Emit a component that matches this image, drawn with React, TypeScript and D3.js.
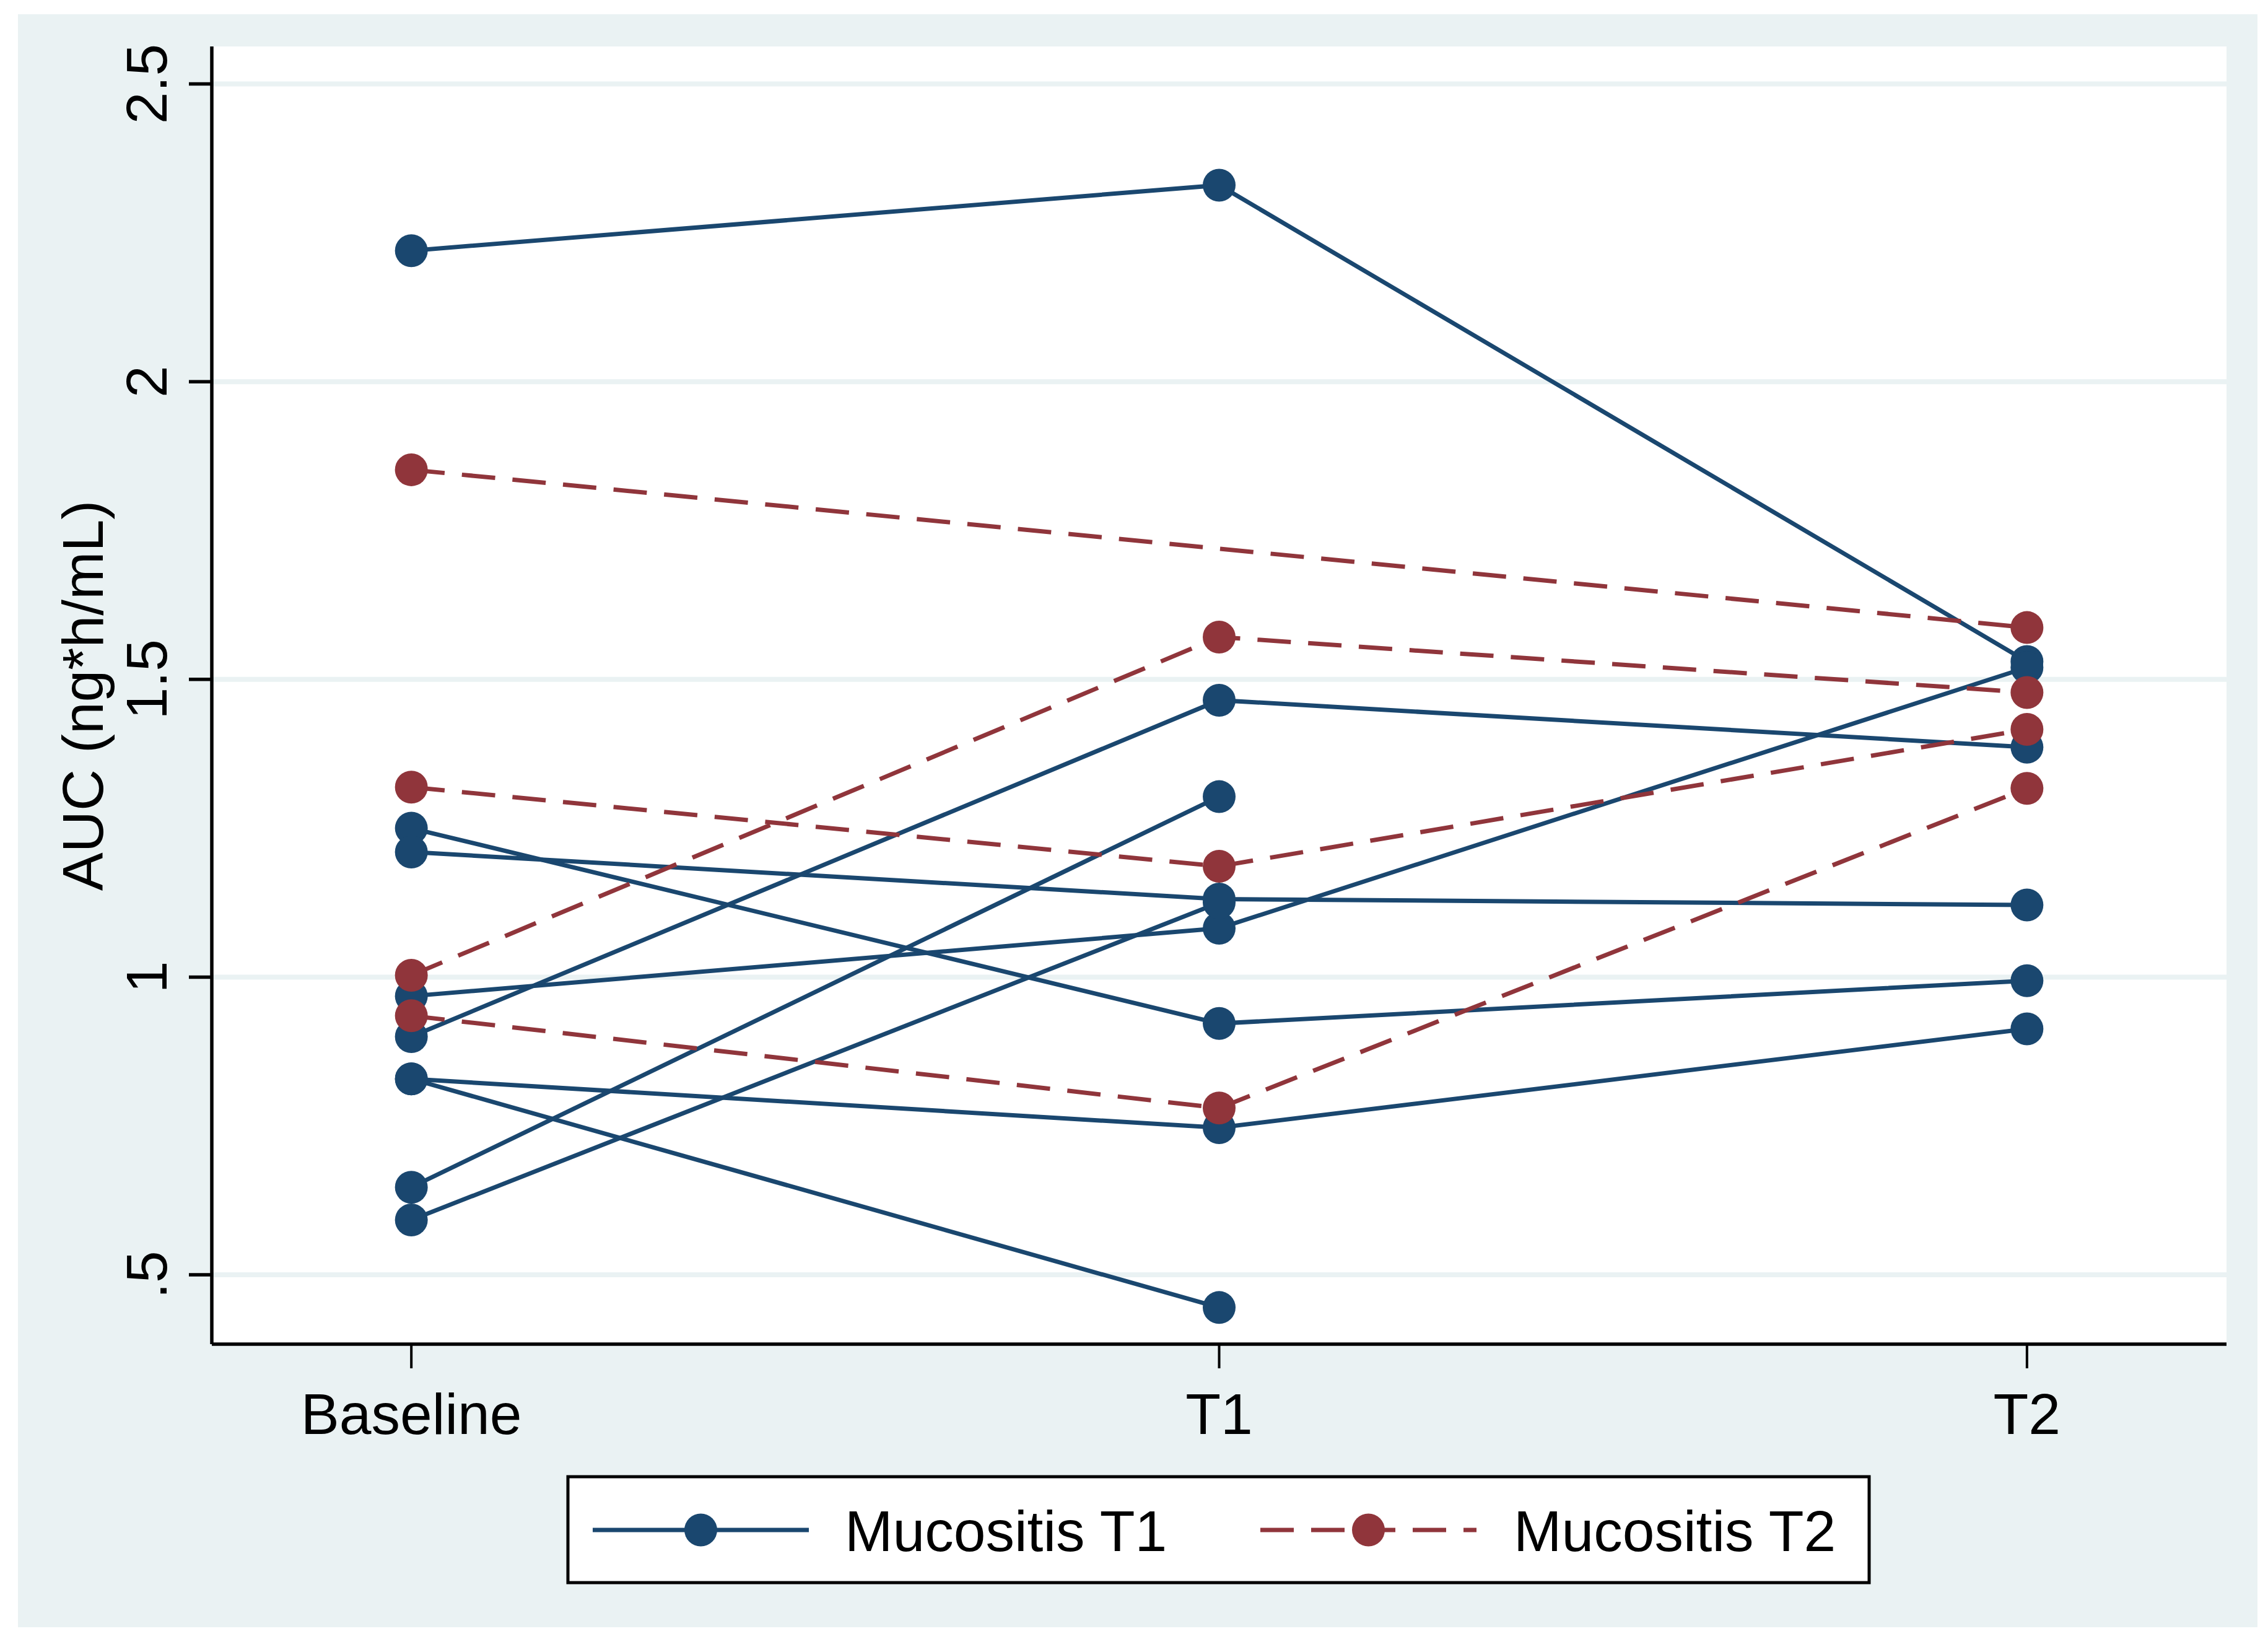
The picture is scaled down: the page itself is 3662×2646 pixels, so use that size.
import * as d3 from "d3";

const timepoints = ["Baseline", "T1", "T2"];

// AUC per patient at Baseline, T1, T2 (null = missing)
const mucositisT1: (number | null)[][] = [
  [2.22, 2.33, 1.53],
  [1.25, 0.922, 0.994],
  [1.21, 1.131, 1.121],
  [0.968, 1.082, 1.52],
  [0.9, 1.465, 1.386],
  [0.829, 0.747, 0.913],
  [0.829, 0.445, null],
  [0.647, 1.303, null],
  [0.592, 1.125, null],
];

const mucositisT2: (number | null)[][] = [
  [1.852, null, 1.587],
  [1.319, 1.186, 1.416],
  [1.003, 1.571, 1.478],
  [0.935, 0.78, 1.317],
];

const yTicks = [0.5, 1, 1.5, 2, 2.5];
const yTickLabels = [".5", "1", "1.5", "2", "2.5"];
const legendLabels = ["Mucositis T1", "Mucositis T2"];

const W = 3662;
const H = 2646;
const plot = { left: 342, top: 75, right: 3595, bottom: 2170 };
const BLUE = "#1a476f";
const RED = "#90353b";
const BG = "#eaf2f3";
const FONT = "'Liberation Sans', Arial, sans-serif";
const FS = 93;
const DASH = "54,28";

const x = d3.scalePoint<string>().domain(timepoints).range([plot.left, plot.right]).padding(0.247);
const y = d3.scaleLinear().domain([0.5, 2.5]).range([2058, 135.5]);

type Pt = { t: string; v: number };

function toPoints(row: (number | null)[]): Pt[] {
  return row
    .map((v, i) => ({ t: timepoints[i], v }))
    .filter((d): d is Pt => d.v !== null);
}

const line = d3
  .line<Pt>()
  .x((d) => x(d.t)!)
  .y((d) => y(d.v));

function Series({ rows, color, dash }: { rows: (number | null)[][]; color: string; dash?: string }) {
  const pts = rows.map(toPoints);
  return (
    <g>
      {pts.map((p, i) => (
        <path key={"l" + i} d={line(p)!} fill="none" stroke={color} strokeWidth={7} strokeDasharray={dash} />
      ))}
      {pts.flat().map((d, i) => (
        <circle key={"m" + i} cx={x(d.t)} cy={y(d.v)} r={26.5} fill={color} />
      ))}
    </g>
  );
}

export default function App() {
  const legendY = 2470;
  const legendItems = [
    { label: legendLabels[0], color: BLUE, dash: undefined, x0: 957, x1: 1306, tx: 1364 },
    { label: legendLabels[1], color: RED, dash: DASH, x0: 2035, x1: 2384, tx: 2444 },
  ];
  return (
    <div style={{ position: "fixed", left: 0, top: 0 }}>
      <svg width={W} height={H} viewBox={`0 0 ${W} ${H}`} style={{ display: "block" }}>
        <rect x={0} y={0} width={W} height={H} fill="#ffffff" />
        <rect x={29} y={23} width={3645 - 29} height={2627 - 23} fill={BG} />
        <rect x={plot.left} y={plot.top} width={plot.right - plot.left} height={plot.bottom - plot.top} fill="#ffffff" />

        {/* Gridlines */}
        {yTicks.map((t) => (
          <line key={"g" + t} x1={plot.left} x2={plot.right} y1={y(t)} y2={y(t)} stroke={BG} strokeWidth={8} />
        ))}

        <Series rows={mucositisT1} color={BLUE} />
        <Series rows={mucositisT2} color={RED} dash={DASH} />

        {/* Y axis */}
        <line x1={plot.left} x2={plot.left} y1={plot.top} y2={plot.bottom} stroke="#000" strokeWidth={5.5} />
        {yTicks.map((t, i) => (
          <g key={"yt" + t}>
            <line x1={305} x2={plot.left} y1={y(t)} y2={y(t)} stroke="#000" strokeWidth={5.5} />
            <text
              transform={`translate(269,${y(t)}) rotate(-90)`}
              textAnchor="middle"
              fontFamily={FONT}
              fontSize={FS}
              fill="#000"
            >
              {yTickLabels[i]}
            </text>
          </g>
        ))}
        <text
          transform={`translate(166,1123) rotate(-90)`}
          textAnchor="middle"
          fontFamily={FONT}
          fontSize={FS}
          fill="#000"
        >
          AUC (ng*h/mL)
        </text>

        {/* X axis */}
        <line x1={plot.left} x2={plot.right} y1={plot.bottom} y2={plot.bottom} stroke="#000" strokeWidth={5.5} />
        {timepoints.map((t) => (
          <g key={"xt" + t}>
            <line x1={x(t)} x2={x(t)} y1={plot.bottom} y2={2209} stroke="#000" strokeWidth={4} />
            <text x={x(t)} y={2315} textAnchor="middle" fontFamily={FONT} fontSize={FS} fill="#000">
              {t}
            </text>
          </g>
        ))}

        {/* Legend */}
        <rect x={917} y={2384} width={3018 - 917} height={2555 - 2384} fill="#ffffff" stroke="#000" strokeWidth={5} />
        {legendItems.map((it) => (
          <g key={it.label}>
            <line x1={it.x0} x2={it.x1} y1={legendY} y2={legendY} stroke={it.color} strokeWidth={7} strokeDasharray={it.dash} />
            <circle cx={(it.x0 + it.x1) / 2} cy={legendY} r={26.5} fill={it.color} />
            <text x={it.tx} y={2504} fontFamily={FONT} fontSize={FS} fill="#000">
              {it.label}
            </text>
          </g>
        ))}
      </svg>
    </div>
  );
}
